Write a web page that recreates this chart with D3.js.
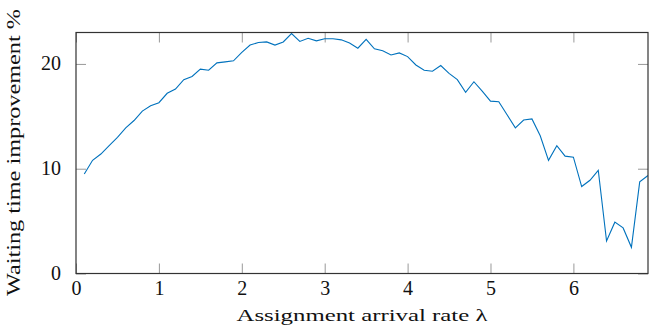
<!DOCTYPE html>
<html>
<head>
<meta charset="utf-8">
<script src="https://cdn.jsdelivr.net/npm/d3@7"></script>
<style>
  body { margin: 0; background: #fff; }
  text { font-family: "Liberation Serif", "DejaVu Serif", serif; fill: #111; }
</style>
</head>
<body>
<div id="chart"></div>
<script>
// arrival rate lambda, step 0.1
const lambdas = d3.range(1, 70).map(i => i / 10);
const improvement = [
    9.5, 10.8, 11.4, 12.2, 13.0, 13.9, 14.6, 15.5, 16.0, 16.3,
    17.2, 17.6, 18.5, 18.8, 19.5, 19.4, 20.1, 20.2, 20.3, 21.1,
    21.8, 22.05, 22.1, 21.8, 22.1, 22.9, 22.15, 22.45, 22.2, 22.4,
    22.4, 22.3, 22.0, 21.5, 22.35, 21.45, 21.25, 20.85, 21.05, 20.7,
    19.9, 19.4, 19.3, 19.85, 19.1, 18.5, 17.3, 18.3, 17.4, 16.45,
    16.4, 15.15, 13.9, 14.65, 14.75, 13.15, 10.8, 12.2, 11.2, 11.1,
    8.3, 8.9, 9.85, 3.1, 4.9, 4.35, 2.5, 8.75, 9.35
];
const xTicks = [0, 1, 2, 3, 4, 5, 6];
const yTicks = [0, 10, 20];
const xLabel = "Assignment arrival rate λ";
const yLabel = "Waiting time improvement %";

const width = 649, height = 331;
const margin = { top: 32.5, right: 1, bottom: 57.5, left: 76 };
const innerW = width - margin.left - margin.right;
const innerH = height - margin.top - margin.bottom;

const svg = d3.select("#chart").append("svg")
    .attr("width", width)
    .attr("height", height);

const g = svg.append("g")
    .attr("transform", "translate(" + margin.left + "," + margin.top + ")");

const x = d3.scaleLinear().domain([0, 6.9]).range([0, innerW]);
const y = d3.scaleLinear().domain([0, 23]).range([innerH, 0]);

g.append("clipPath").attr("id", "clip")
    .append("rect").attr("width", innerW).attr("height", innerH);

// inward ticks on all four sides
const tickLen = 10;
const tickColor = "#999";
const axBottom = g.append("g")
    .attr("transform", "translate(0," + innerH + ")")
    .call(d3.axisBottom(x).tickValues(xTicks).tickSize(-tickLen).tickPadding(7).tickFormat(d3.format("d")));
const axTop = g.append("g")
    .call(d3.axisTop(x).tickValues(xTicks).tickSize(-tickLen).tickFormat(""));
const axLeft = g.append("g")
    .call(d3.axisLeft(y).tickValues(yTicks).tickSize(-tickLen).tickPadding(15).tickFormat(d3.format("d")));
const axRight = g.append("g")
    .attr("transform", "translate(" + innerW + ",0)")
    .call(d3.axisRight(y).tickValues(yTicks).tickSize(-tickLen).tickFormat(""));

[axBottom, axTop, axLeft, axRight].forEach(ax => {
    ax.select(".domain").remove();
    ax.selectAll(".tick line").attr("stroke", tickColor).attr("stroke-width", 1);
    ax.selectAll(".tick text")
        .style("font-family", "'Liberation Serif', serif")
        .style("font-size", "20px")
        .attr("fill", "#111");
});
axLeft.selectAll(".tick text").attr("dy", "0.3em");

g.append("path")
    .datum(lambdas.map((l, i) => [l, improvement[i]]))
    .attr("clip-path", "url(#clip)")
    .attr("fill", "none")
    .attr("stroke", "#0072BD")
    .attr("stroke-width", 1.1)
    .attr("d", d3.line().x(d => x(d[0])).y(d => y(d[1])));

g.append("rect")
    .attr("width", innerW)
    .attr("height", innerH)
    .attr("fill", "none")
    .attr("stroke", "#333")
    .attr("stroke-width", 1.2);

svg.append("text")
    .attr("x", margin.left + innerW / 2)
    .attr("y", 320.5)
    .attr("text-anchor", "middle")
    .attr("textLength", 251)
    .attr("lengthAdjust", "spacingAndGlyphs")
    .style("font-size", "17px")
    .text(xLabel);

svg.append("text")
    .attr("transform", "translate(20," + (margin.top + innerH / 2 - 0.5) + ") rotate(-90)")
    .attr("text-anchor", "middle")
    .attr("textLength", 287)
    .attr("lengthAdjust", "spacingAndGlyphs")
    .style("font-size", "18px")
    .text(yLabel);
</script>
</body>
</html>
